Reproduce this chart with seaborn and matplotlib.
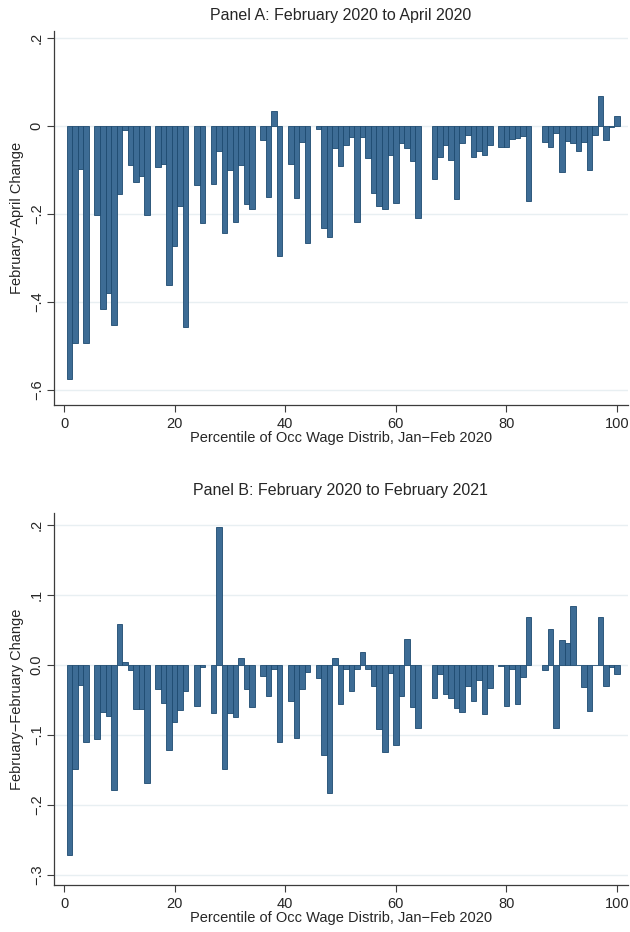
## Occupation wage percentile change charts (two panels, Stata-like look)

import seaborn as sns
import matplotlib.pyplot as plt
import pandas as pd
import numpy as np

nan = np.nan

# percentile of occupation wage distribution (x categories)
percentile = list(range(1, 101))

# Panel A: February 2020 to April 2020 change
change_feb_apr = [
    -0.575, -0.494, -0.098, -0.494, nan, -0.202, -0.417, -0.379, -0.452, -0.155,
    -0.010, -0.089, -0.127, -0.114, -0.202, nan, -0.094, -0.086, -0.361, -0.272,
    -0.183, -0.458, nan, -0.134, -0.220, nan, -0.132, -0.058, -0.244, -0.100,
    -0.219, -0.089, -0.177, -0.189, nan, -0.032, -0.161, 0.035, -0.295, nan,
    -0.086, -0.164, -0.036, -0.267, nan, -0.008, -0.233, -0.252, -0.051, -0.091,
    -0.043, -0.026, -0.218, -0.026, -0.073, -0.153, -0.183, -0.189, -0.066, -0.174,
    -0.039, -0.051, -0.079, -0.210, nan, nan, -0.121, -0.070, -0.043, -0.077,
    -0.167, -0.039, -0.020, -0.071, -0.056, -0.066, -0.043, nan, -0.049, -0.047,
    -0.030, -0.028, -0.024, -0.170, nan, nan, -0.036, -0.047, -0.017, -0.105,
    -0.034, -0.038, -0.057, -0.036, -0.100, -0.020, 0.068, -0.032, -0.002, 0.023,
]

# Panel B: February 2020 to February 2021 change
change_feb_feb = [
    -0.271, -0.148, -0.029, -0.110, nan, -0.105, -0.067, -0.073, -0.179, 0.059,
    0.005, -0.007, -0.063, -0.063, -0.169, nan, -0.034, -0.054, -0.121, -0.081,
    -0.064, -0.037, nan, -0.059, -0.003, nan, -0.068, 0.197, -0.148, -0.068,
    -0.074, 0.010, -0.034, -0.060, nan, -0.016, -0.044, -0.005, -0.110, nan,
    -0.051, -0.104, -0.034, -0.010, nan, -0.019, -0.129, -0.183, 0.010, -0.056,
    -0.005, -0.037, -0.006, 0.018, -0.005, -0.030, -0.091, -0.124, -0.011, -0.114,
    -0.044, 0.037, -0.060, -0.090, nan, nan, -0.047, -0.013, -0.041, -0.047,
    -0.061, -0.067, -0.030, -0.052, -0.021, -0.070, -0.033, nan, -0.002, -0.058,
    -0.005, -0.056, -0.017, 0.068, nan, nan, -0.007, 0.051, -0.090, 0.036,
    0.031, 0.085, 0.000, -0.031, -0.065, 0.000, 0.068, -0.030, -0.003, -0.013,
]

x_ticks = [0, 20, 40, 60, 80, 100]
yticks_a = [-0.6, -0.4, -0.2, 0.0, 0.2]
ylabels_a = ["\u2212.6", "\u2212.4", "\u2212.2", "0", ".2"]
yticks_b = [-0.3, -0.2, -0.1, 0.0, 0.1, 0.2]
ylabels_b = ["\u2212.3", "\u2212.2", "\u2212.1", "0.0", ".1", ".2"]

xlabel = "Percentile of Occ Wage Distrib, Jan\u2212Feb 2020"

sns.set_style("white")
plt.rcParams['font.family'] = ['Liberation Sans', 'DejaVu Sans']

bar_fill = "#3d6c95"
bar_edge = "#1d4a70"
grid_col = "#e8eff2"
axis_col = "#3c3c3c"

fig = plt.figure(figsize=(6.3, 9.32), dpi=100)
axA = fig.add_axes([0.085, 0.5655, 0.912, 0.4009])
axB = fig.add_axes([0.085, 0.0506, 0.912, 0.3988])


def draw_panel(ax, values, title, ylab, yticks, ylabels, ylim, title_pad):
    df = pd.DataFrame({'pct': percentile, 'change': values}).dropna()
    for t in yticks:
        ax.axhline(t, color=grid_col, lw=1.0, zorder=0)
    sns.barplot(data=df, x='pct', y='change', native_scale=True, width=1,
                color=bar_fill, saturation=1, edgecolor=bar_edge, linewidth=0.6,
                errorbar=None, ax=ax, zorder=2)
    ax.set_xlim(-1.9, 102)
    ax.set_ylim(*ylim)
    ax.set_xticks(x_ticks)
    ax.set_xticklabels([str(t) for t in x_ticks], fontsize=10.5)
    ax.set_yticks(yticks)
    ax.set_yticklabels(ylabels, fontsize=10.5, rotation=90, va='center')
    ax.tick_params(axis='both', direction='out', length=5, width=0.8,
                   color=axis_col, left=True, bottom=True)
    ax.tick_params(axis='x', pad=4)
    ax.tick_params(axis='y', pad=2)
    for s in ['top', 'right']:
        ax.spines[s].set_visible(False)
    for s in ['left', 'bottom']:
        ax.spines[s].set_color(axis_col)
        ax.spines[s].set_linewidth(0.9)
    ax.set_xlabel(xlabel, fontsize=10.5, labelpad=0)
    ax.set_ylabel(ylab, fontsize=10.5, labelpad=4)
    ax.set_title(title, fontsize=11.5, pad=title_pad)
    ax.set_facecolor('white')


draw_panel(axA, change_feb_apr, "Panel A: February 2020 to April 2020",
           "February\u2212April Change", yticks_a, ylabels_a, (-0.634, 0.215), 8)
draw_panel(axB, change_feb_feb, "Panel B: February 2020 to February 2021",
           "February\u2212February Change", yticks_b, ylabels_b, (-0.314, 0.217), 13)

plt.savefig("out.png", dpi=100)
